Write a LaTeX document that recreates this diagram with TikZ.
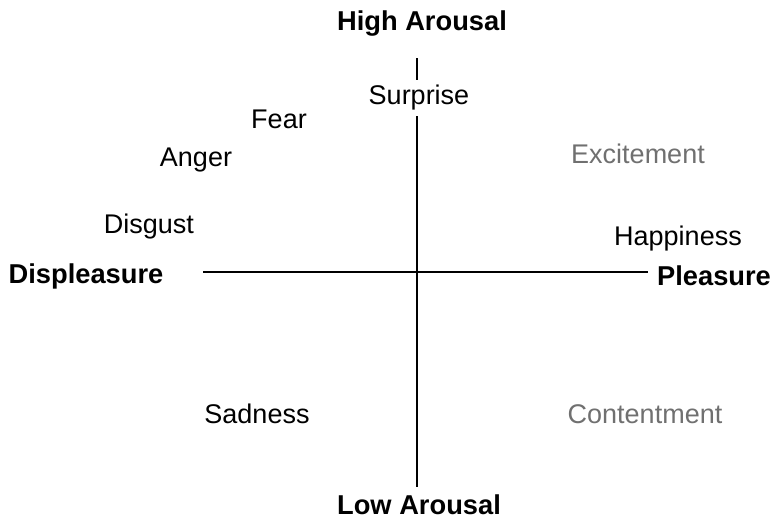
\documentclass[tikz,border=0pt]{standalone}
\usepackage{fontspec}
\setmainfont{Liberation Sans}
\usepackage{xcolor}
\usepackage{tikz}
\usetikzlibrary{positioning}

\definecolor{softgray}{HTML}{707070}

\begin{document}
\begin{tikzpicture}[
        x=0.025cm, y=-0.025cm,
        every node/.style={font=\fontsize{19.2}{22}\selectfont, inner sep=1pt},
        axislabel/.style={font=\fontsize{19.4}{22}\selectfont\bfseries},
        emotion/.style={text=black},
        faint/.style={text=softgray},
        axisline/.style={draw, line width=1.4pt},
      ]

      \useasboundingbox (0,0) rectangle (770,520);

      % axis ends
      \coordinate (top) at (417,58);
      \coordinate (bottom) at (417,487);
      \coordinate (left) at (203,272);
      \coordinate (right) at (648,272);

      \draw[axisline] (top) -- (bottom);
      \draw[axisline] (left) -- (right);

      \node[axislabel] (high) at (422,24) {High Arousal};
      \node[axislabel] (low) at (419,505) {Low Arousal};
      \node[axislabel] (displeasure) at (86,276) {Displeasure};
      \node[axislabel] (pleasure) at (714,276) {Pleasure};

      \node[emotion, fill=white, inner sep=4pt] (surprise) at (419,98) {Surprise};
      \node[emotion] (fear) at (279,119) {Fear};
      \node[emotion] (anger) at (196,160) {Anger};
      \node[emotion] (disgust) at (149,227) {Disgust};
      \node[emotion] (happiness) at (678,239) {Happiness};
      \node[emotion] (sadness) at (257,414) {Sadness};
      \node[faint] (excitement) at (638,154) {Excitement};
      \node[faint] (contentment) at (645,414) {Contentment};

    \end{tikzpicture}
\end{document}
